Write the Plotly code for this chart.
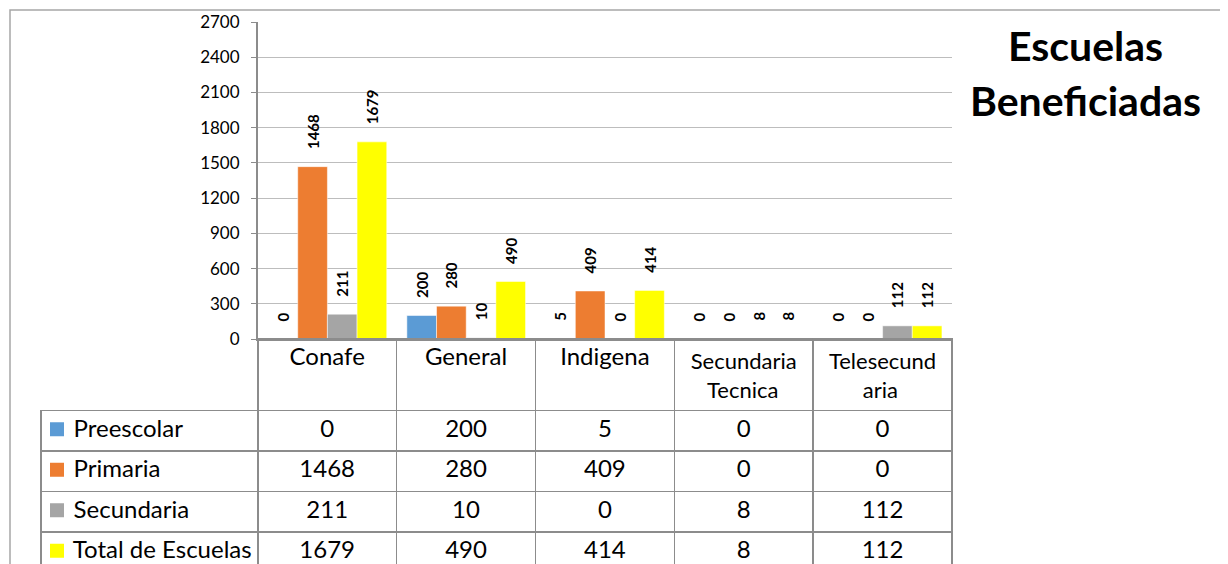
import plotly.graph_objects as go

W, H = 1228, 620   # taller than the window; the lower part is simply not visible
OFF = 8            # page body margin offset
NB = "\u00a0"

categories = ["Conafe", "General", "Indigena", "Secundaria Tecnica", "Telesecundaria"]
# shorter second lines are padded so that each line sits centred in its cell
header_labels = ["Conafe", "General", "Indigena",
                 "Secundaria<br>" + NB * 3 + "Tecnica",
                 "Telesecund<br>" + NB * 6 + "aria"]
series_names = ["Preescolar", "Primaria", "Secundaria", "Total de Escuelas"]
preescolar = [0, 200, 5, 0, 0]
primaria = [1468, 280, 409, 0, 0]
secundaria = [211, 10, 0, 8, 112]
total = [1679, 490, 414, 8, 112]
y_ticks = [0, 300, 600, 900, 1200, 1500, 1800, 2100, 2400, 2700]

colors = ["#5B9BD5", "#ED7D31", "#A5A5A5", "#FFFF00"]
series_values = [preescolar, primaria, secundaria, total]

FONT = "Lato"
GRID = "#BDBDBD"
AXIS = "#8C8C8C"
CLEAR = "rgba(0,0,0,0)"

fig = go.Figure()
for name, vals, col in zip(series_names, series_values, colors):
    fig.add_trace(go.Bar(
        x=categories, y=vals, name=name,
        marker=dict(color=col, line=dict(width=0.5, color="white")),
        text=[NB * 4 + str(v) for v in vals],
        textposition="outside", textangle=-90,
        textfont=dict(family=FONT, size=15, color="black", weight="bold"),
        constraintext="none", cliponaxis=False,
        showlegend=False, hoverinfo="x+y+name",
    ))

def px(x):
    return (x - OFF) / W

def py(y):
    return 1 - (y - OFF) / H

x0, x1 = px(258), px(952)
ybot, ytop = py(339), py(22)
HEADER_H = 70
ROW_H = 40.5
rows_top = 339 + HEADER_H
rows_bot = rows_top + ROW_H * len(series_names)

# legend keys of the data table (colored squares), on their own hidden axes
fig.add_trace(go.Scatter(
    x=[0] * len(series_names), y=series_names, mode="markers",
    marker=dict(symbol="square", size=14, color=colors, line=dict(width=0)),
    xaxis="x2", yaxis="y2", showlegend=False, hoverinfo="skip",
))

legend_cells = [NB * 4 + n.replace(" ", NB) for n in series_names]
cols = [legend_cells]
for i in range(len(categories)):
    cols.append([str(s[i]) for s in series_values])

fig.add_trace(go.Table(
    domain=dict(x=[px(41), x1], y=[0, ybot]),
    columnwidth=[217, 139, 139, 139, 139, 139],
    header=dict(
        values=[""] + header_labels,
        height=HEADER_H,
        align="center",
        fill=dict(color=CLEAR),
        line=dict(color=[CLEAR] + [AXIS] * 5, width=1.5),
        font=dict(family=FONT, size=[24, 24, 24, 24, 22, 22], color="black"),
    ),
    cells=dict(
        values=cols,
        height=ROW_H,
        align=["left"] + ["center"] * 5,
        fill=dict(color=CLEAR),
        line=dict(color=AXIS, width=1.5),
        font=dict(family=FONT, size=24, color="black"),
    ),
))

fig.update_layout(
    width=W, height=H, autosize=False,
    margin=dict(l=0, r=0, t=0, b=0, pad=0, autoexpand=False),
    paper_bgcolor="white", plot_bgcolor=CLEAR,
    barmode="group", bargap=0.145, bargroupgap=0,
    xaxis=dict(domain=[x0, x1], showticklabels=False, showgrid=False,
               showline=True, linecolor=AXIS, linewidth=2, ticks="",
               automargin=False),
    yaxis=dict(domain=[ybot, ytop], range=[0, 2700], tickvals=y_ticks,
               showgrid=True, gridcolor=GRID, gridwidth=1,
               showline=True, linecolor=AXIS, linewidth=2,
               ticks="outside", ticklen=5, tickcolor=AXIS,
               ticklabelstandoff=8, automargin=False,
               tickfont=dict(family=FONT, size=17, color="black"),
               zeroline=False),
    xaxis2=dict(domain=[px(41), px(258)], range=[-16, 201], anchor="y2",
                visible=False, automargin=False, fixedrange=True),
    yaxis2=dict(domain=[py(rows_bot), py(rows_top)], type="category",
                categoryorder="array", categoryarray=series_names,
                range=[len(series_names) - 0.5, -0.5], anchor="x2",
                visible=False, automargin=False, fixedrange=True),
    shapes=[dict(type="rect", xref="paper", yref="paper",
                 x0=px(10), x1=1.05, y0=-0.05, y1=py(10),
                 line=dict(color="#A6A6A6", width=1.5), layer="below")],
    annotations=[
        dict(text="<b>Escuelas</b>", xref="paper", yref="paper",
             x=px(1085), y=py(45), xanchor="center", yanchor="middle",
             showarrow=False, font=dict(family=FONT, size=41, color="black")),
        dict(text="<b>Beneficiadas</b>", xref="paper", yref="paper",
             x=px(1085), y=py(100), xanchor="center", yanchor="middle",
             showarrow=False, font=dict(family=FONT, size=41, color="black")),
    ],
)

fig.write_html("out.html")
